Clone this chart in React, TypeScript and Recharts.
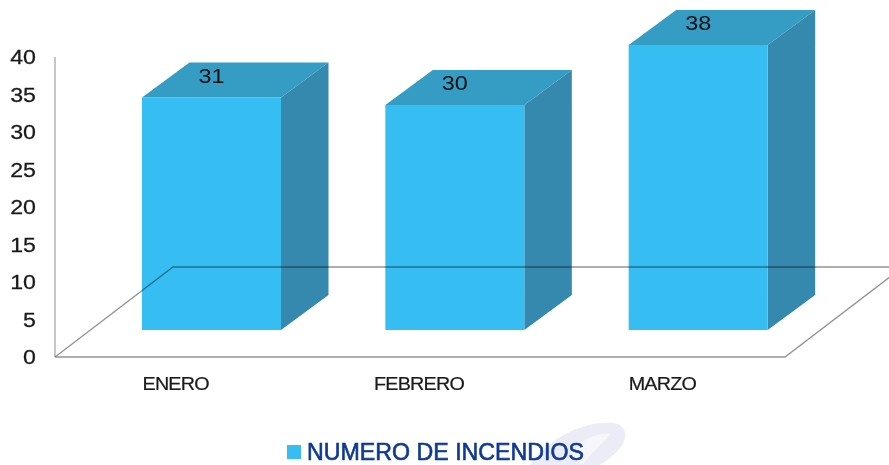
import { BarChart, Bar, XAxis, YAxis, LabelList, Legend } from "recharts";

const categories = ["ENERO", "FEBRERO", "MARZO"];
const incendios = [31, 30, 38];
const yTicks = [0, 5, 10, 15, 20, 25, 30, 35, 40];
const seriesName = "NUMERO DE INCENDIOS";

const data = categories.map((mes, i) => ({ mes, incendios: incendios[i] }));

const FONT = "'Liberation Sans', Arial, sans-serif";
// the bars float above the floor line and have a fake depth
const LIFT = 27;
const DEPTH_X = 47.5;
const DEPTH_Y = 35;

function Bar3D({ x, y, width, height }: any) {
  const top = y - LIFT;
  const bottom = y + height - LIFT;
  const right = x + width;
  return (
    <g>
      <polygon
        points={`${x},${top} ${x + DEPTH_X},${top - DEPTH_Y} ${right + DEPTH_X},${top - DEPTH_Y} ${right},${top}`}
        fill="#359cc4"
      />
      <polygon
        points={`${right},${top} ${right + DEPTH_X},${top - DEPTH_Y} ${right + DEPTH_X},${bottom - DEPTH_Y} ${right},${bottom}`}
        fill="#3589af"
      />
      <rect x={x} y={top} width={width} height={bottom - top} fill="#36bef2" />
    </g>
  );
}

function YTick({ x, y, payload }: any) {
  return (
    <text
      transform={`translate(${x},${y + 7}) scale(1.16,1)`}
      textAnchor="end"
      fontFamily={FONT}
      fontSize={20}
      stroke="#1a1a1a"
      strokeWidth={0.25}
      fill="#1a1a1a"
    >
      {payload.value}
    </text>
  );
}

function XTick({ x, y, payload }: any) {
  return (
    <text
      transform={`translate(${x - 36},${y + 19}) scale(1.13,1)`}
      textAnchor="middle"
      fontFamily={FONT}
      fontSize={17.5}
      letterSpacing={-0.7}
      stroke="#1a1a1a"
      strokeWidth={0.2}
      fill="#1a1a1a"
    >
      {payload.value}
    </text>
  );
}

function ValueLabel({ x, y, width, value }: any) {
  return (
    <text
      transform={`translate(${x + width / 2},${y - LIFT - 15}) scale(1.2,1)`}
      textAnchor="middle"
      fontFamily={FONT}
      fontSize={19.5}
      fill="#111"
    >
      {value}
    </text>
  );
}

function LegendRow() {
  return (
    <div
      style={{
        position: "relative",
        marginLeft: 287,
        marginTop: 2,
        height: 30,
        display: "flex",
        alignItems: "center",
        fontFamily: FONT,
        fontSize: 23.2,
        fontWeight: 400,
        WebkitTextStroke: "0.6px #0f3a92",
        color: "#0f3a92",
        whiteSpace: "nowrap",
      }}
    >
      <span style={{ width: 14, height: 14, background: "#36bef2", marginRight: 6 }} />
      <span>{seriesName}</span>
    </div>
  );
}

export default function App() {
  return (
    <div style={{ position: "absolute", left: 0, top: 0, width: 889, height: 465, overflow: "hidden" }}>
      <BarChart
        width={889}
        height={465}
        data={data}
        margin={{ top: 12, right: 69, bottom: 38, left: 0 }}
      >
        {/* watermark */}
        <path
          d="M530,465 C550,436 590,418 618,424 C634,432 622,452 600,465 Z"
          fill="#e6e6f4"
          fillOpacity={0.75}
        />
        <path d="M570,455 C578,442 595,432 610,434 C602,444 590,454 582,465 Z" fill="#f7f7fb" />
        {/* wall */}
        <line x1={55} y1={57} x2={55} y2={357} stroke="#b5b5b5" strokeWidth={1.5} />
        <XAxis
          dataKey="mes"
          axisLine={false}
          tickLine={false}
          tickMargin={8}
          height={40}
          tick={<XTick />}
          interval={0}
        />
        <YAxis
          domain={[0, 46]}
          ticks={yTicks}
          axisLine={false}
          tickLine={false}
          width={90}
          tickMargin={48}
          tick={<YTick />}
          interval={0}
        />
        <Legend content={<LegendRow />} wrapperStyle={{ height: 30, left: 0, bottom: 0, width: 889 }} />
        <Bar
          dataKey="incendios"
          name={seriesName}
          barSize={139}
          fill="#36bef2"
          shape={<Bar3D />}
          isAnimationActive={false}
        >
          <LabelList dataKey="incendios" content={<ValueLabel />} />
        </Bar>
      </BarChart>
      {/* floor sits over the bars, multiplied so it shows through them */}
      <svg
        width={889}
        height={465}
        style={{ position: "absolute", left: 0, top: 0, pointerEvents: "none", mixBlendMode: "multiply" }}
      >
        <polyline
          points="55,357 173,267 903,267 785,357 55,357"
          fill="none"
          stroke="#949494"
          strokeWidth={1.3}
        />
      </svg>
    </div>
  );
}
